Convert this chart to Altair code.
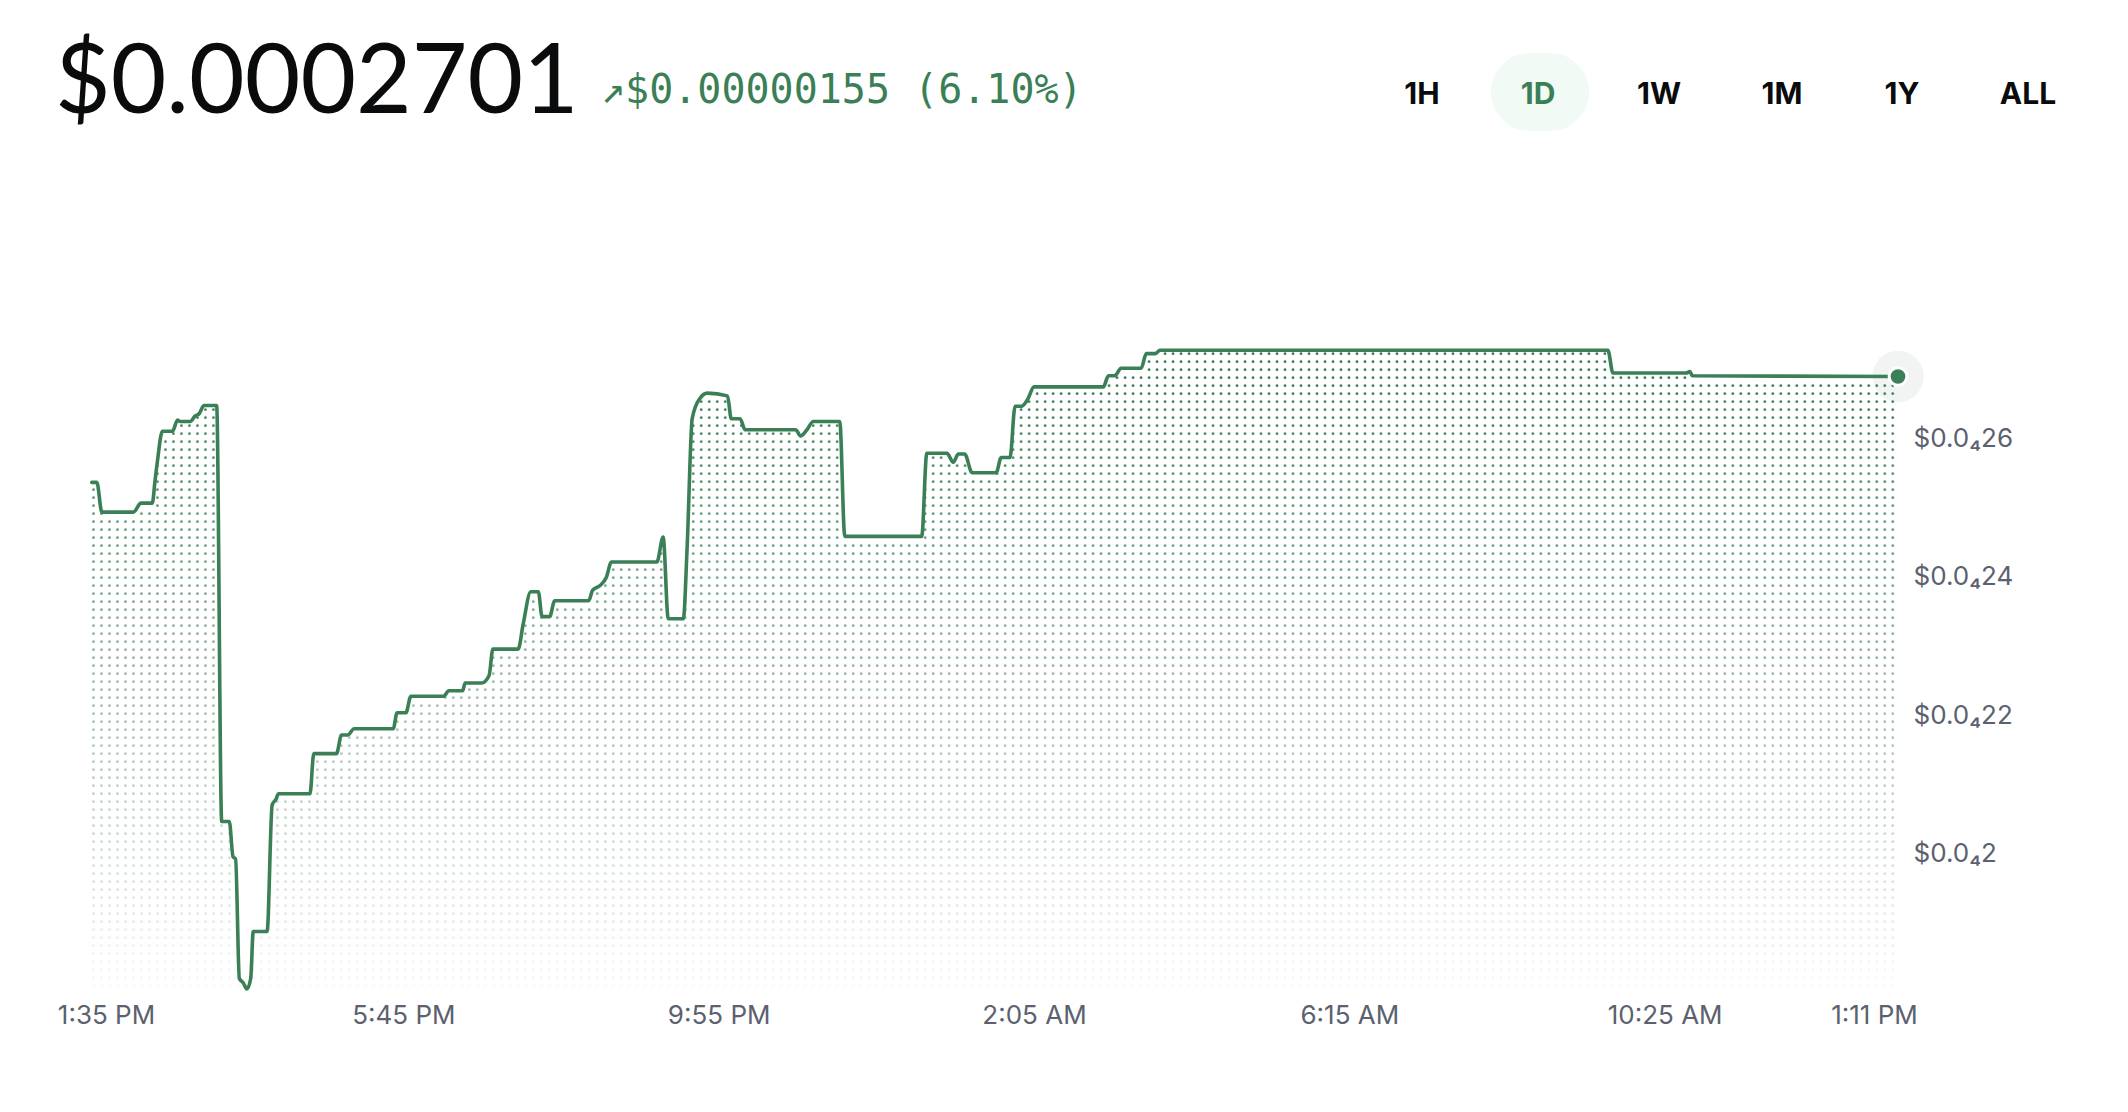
import altair as alt
import pandas as pd
import numpy as np

# ---------------- data ----------------
# clock times of the 1D price series (rolls over midnight)
times = ["13:38", "13:42", "13:46", "14:11", "14:17", "14:26", "14:28", "14:30", "14:34", "14:42",
         "14:46", "14:48", "14:56", "15:00", "15:03", "15:07", "15:17", "15:21", "15:27", "15:30",
         "15:32", "15:35", "15:38", "15:41", "15:44", "15:46", "15:57", "16:01", "16:04", "16:06",
         "16:31", "16:34", "16:52", "16:56", "17:01", "17:06", "17:37", "17:40", "17:47", "17:51",
         "18:17", "18:21", "18:32", "18:34", "18:47", "18:53", "18:56", "19:16", "19:20", "19:26",
         "19:32", "19:35", "19:41", "19:45", "20:12", "20:15", "20:21", "20:26", "20:30", "21:06",
         "21:11", "21:15", "21:27", "21:30", "21:34", "21:40", "21:46", "22:02", "22:05", "22:12",
         "22:16", "22:56", "23:00", "23:05", "23:10", "23:31", "23:35", "00:36", "00:40", "00:56",
         "01:01", "01:05", "01:10", "01:16", "01:35", "01:39", "01:46", "01:50", "01:55", "02:00",
         "02:05", "03:00", "03:04", "03:09", "03:14", "03:30", "03:34", "03:41", "03:45", "09:40",
         "09:44", "10:42", "10:45", "10:47", "13:30"]
# price in units of $0.000001
price_micro = [25.48, 25.48, 25.05, 25.05, 25.18, 25.18, 25.48, 25.78, 26.22, 26.22,
               26.38, 26.36, 26.36, 26.44, 26.47, 26.59, 26.59, 20.58, 20.58, 20.07,
               20.04, 18.31, 18.25, 18.16, 18.31, 18.99, 18.99, 20.82, 20.90, 20.98,
               20.98, 21.56, 21.56, 21.83, 21.83, 21.92, 21.92, 22.15, 22.15, 22.39,
               22.39, 22.47, 22.47, 22.58, 22.58, 22.69, 23.07, 23.07, 23.43, 23.90,
               23.90, 23.54, 23.54, 23.77, 23.77, 23.92, 23.99, 24.11, 24.33, 24.33,
               24.69, 23.51, 23.51, 24.54, 26.40, 26.69, 26.77, 26.73, 26.40, 26.40,
               26.24, 26.24, 26.15, 26.24, 26.36, 26.36, 24.70, 24.70, 25.90, 25.90,
               25.77, 25.89, 25.89, 25.62, 25.62, 25.84, 25.84, 26.58, 26.58, 26.68,
               26.86, 26.86, 27.02, 27.02, 27.13, 27.13, 27.34, 27.34, 27.39, 27.39,
               27.06, 27.06, 27.08, 27.02, 27.01]

x_tick_times = ["13:35", "17:45", "21:55", "02:05", "06:15", "10:25", "13:11"]
y_tick_values = [0.00002, 0.000022, 0.000024, 0.000026]

headline = "$0.0002701"
change_text = "\u2197$0.00000155 (6.10%)"
ranges = ["1H", "1D", "1W", "1M", "1Y", "ALL"]
active_range = "1D"

# ---------------- build tables ----------------
GREEN = "#3b7f57"
GRAY = "#5b616e"
INK = "#0a0b0d"

day = pd.Timestamp("2024-05-20")
stamps, prev = [], None
for s in times:
    h, m = map(int, s.split(":"))
    mins = h * 60 + m
    if prev is not None and mins < prev:
        day += pd.Timedelta(days=1)
    prev = mins
    stamps.append(day + pd.Timedelta(minutes=mins))

line_df = pd.DataFrame({"time": stamps, "price": np.array(price_micro) * 1e-6})

# dotted fill under the line: a regular grid of dots below the price line
tmin = np.array([(s - stamps[0]).total_seconds() / 60.0 for s in stamps])
pv = np.array(price_micro)
DOT_T0, DOT_DT = 1.35, 6.34            # minutes
DOT_P0, DOT_DP, DOT_PMIN = 27.34, 0.1156, 18.1
col_t = np.arange(DOT_T0, tmin[-1], DOT_DT)
row_p = np.arange(DOT_P0, DOT_PMIN, -DOT_DP)
dot_t, dot_p = [], []
for ct in col_t:
    lv = np.interp(ct, tmin, pv)
    for rp in row_p:
        if rp <= lv - 0.04:
            dot_t.append(stamps[0] + pd.Timedelta(seconds=int(round(ct * 60))))
            dot_p.append(rp * 1e-6)
dots_df = pd.DataFrame({"time": dot_t, "price": dot_p})


def dt(date, hh, mm):
    return alt.DateTime(year=2024, month=5, date=date, hours=hh, minutes=mm)


tick_dts = []
d = 20
prevm = None
for s in x_tick_times:
    h, m = map(int, s.split(":"))
    if prevm is not None and h * 60 + m < prevm:
        d += 1
    prevm = h * 60 + m
    tick_dts.append(dt(d, h, m))

x_scale = alt.Scale(domain=[dt(20, 13, 35), dt(21, 13, 30)])
y_scale = alt.Scale(domain=[0.000018, 0.000028], zero=False, nice=False)

x_axis = alt.Axis(
    values=tick_dts, format="%-I:%M %p", title=None, domain=False, ticks=False, grid=False,
    labelFlush=False, labelOverlap=False, labelFont="Inter", labelFontSize=26,
    labelColor=GRAY, labelPadding=2,
    labelOffset={"condition": {"test": "hours(datum.value) == 13 && minutes(datum.value) == 35",
                               "value": 18}, "value": 0},
)
y_axis = alt.Axis(
    orient="right", values=y_tick_values, title=None, domain=False, ticks=False, grid=False,
    labelExpr="'$0.0\u2084' + replace(format(datum.value * 1e5, '~g'), '.', '')",
    labelFont="Inter", labelFontSize=26, labelColor=GRAY, labelPadding=15,
    labelBaseline="alphabetic", labelAlign="left",
)

X = alt.X("time:T", scale=x_scale, axis=x_axis)
Y = alt.Y("price:Q", scale=y_scale, axis=y_axis)

last_df = line_df.tail(1)

halo = alt.Chart(last_df).mark_circle(size=2642, color="#f2f4f4", opacity=1).encode(x=X, y=Y)

dots = alt.Chart(dots_df).mark_circle(size=8, color=GREEN).encode(
    x=X, y=Y,
    opacity=alt.Opacity("price:Q", scale=alt.Scale(domain=[0.0000181, 0.0000272], range=[0.03, 1.0]),
                        legend=None),
)

line = alt.Chart(line_df).mark_line(
    color=GREEN, strokeWidth=3.6, interpolate="monotone", strokeCap="round", strokeJoin="round"
).encode(x=X, y=Y)

end_dot = alt.Chart(last_df).mark_circle(
    size=314, color=GREEN, opacity=1, stroke="white", strokeWidth=3
).encode(x=X, y=Y)

one = pd.DataFrame({"a": [0]})

pill = alt.Chart(one).mark_rect(color="#f1faf4", cornerRadius=39).encode(
    x=alt.value(1403), x2=alt.value(1501), y=alt.value(-255), y2=alt.value(-177)
)

title_txt = alt.Chart(pd.DataFrame({"t": [headline]})).mark_text(
    font="Lato", fontSize=96, fontWeight=400, color=INK, align="left", baseline="alphabetic"
).encode(text="t:N", x=alt.value(-33), y=alt.value(-195))

change_txt = alt.Chart(pd.DataFrame({"t": [change_text]})).mark_text(
    font="DejaVu Sans Mono", fontSize=40, color=GREEN, align="left", baseline="alphabetic"
).encode(text="t:N", x=alt.value(513), y=alt.value(-205))

btn_x = [1334, 1450, 1571, 1694, 1814, 1940]
buttons = []
for lab, bx in zip(ranges, btn_x):
    buttons.append(
        alt.Chart(pd.DataFrame({"t": [lab]})).mark_text(
            font="Inter", fontSize=30, fontWeight="bold",
            color=GREEN if lab == active_range else INK, align="center", baseline="alphabetic"
        ).encode(text="t:N", x=alt.value(bx), y=alt.value(-204))
    )

chart = alt.layer(
    halo, dots, line, end_dot, pill, title_txt, change_txt, *buttons
).properties(
    width=1810, height=692,
    autosize=alt.AutoSizeParams(type="none"),
    padding={"left": 88, "top": 308, "right": 230, "bottom": 112},
    background="white",
).configure_view(stroke=None)

chart.save("out.html", embed_options={"renderer": "svg", "actions": False})
